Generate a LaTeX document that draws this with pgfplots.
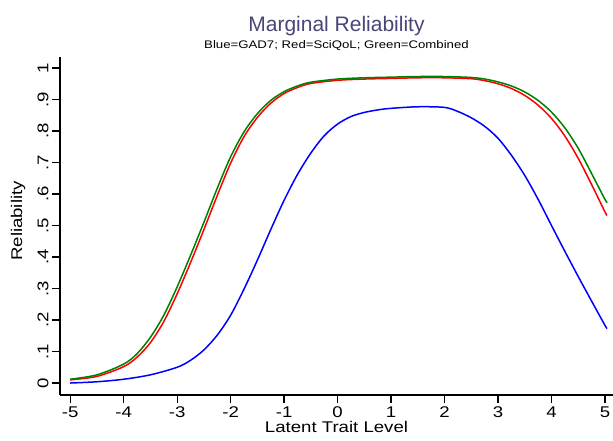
\documentclass[border=0pt]{standalone}
\usepackage{fontspec}
\setmainfont{Liberation Sans}[FakeStretch=1.2]
\newfontfamily\titlefont{Liberation Sans}
\usepackage{pgfplots}
\pgfplotsset{compat=1.18}
\definecolor{titleblue}{RGB}{70,70,120}
\definecolor{stgreen}{RGB}{0,128,0}

\begin{document}
\begin{tikzpicture}
\useasboundingbox (-60pt,-46pt) rectangle (553pt,395pt);
\begin{axis}[
    scale only axis,
    width=553pt, height=338pt,
    xmin=-5.19, xmax=5.15,
    ymin=-0.038, ymax=1.035,
    clip=false,
    axis lines*=left,
    axis line style={line width=1.2pt, black},
    tick align=outside,
    major tick length=8pt,
    tick style={line width=1.2pt, black},
    xtick={-5,-4,-3,-2,-1,0,1,2,3,4,5},
    xticklabels={-5,-4,-3,-2,-1,0,1,2,3,4,5},
    ytick={0,0.1,0.2,0.3,0.4,0.5,0.6,0.7,0.8,0.9,1},
    yticklabels={0,.1,.2,.3,.4,.5,.6,.7,.8,.9,1},
    ticklabel style={font=\fontsize{15.5}{18}\selectfont},
    yticklabel style={rotate=90, anchor=south},
    xlabel={Latent Trait Level},
    ylabel={Reliability},
    label style={font=\fontsize{15.5}{18}\selectfont},
    xlabel style={at={(axis description cs:0.5,-0.112)}, anchor=base},
    ylabel style={at={(axis description cs:-0.0687,0.515)}, anchor=base},
]
% GAD7
\addplot[blue, line width=1.5pt, smooth] coordinates {
    (-5,0.0) (-4.5,0.004) (-4,0.012) (-3.5,0.026) (-3,0.05) (-2.75,0.072)
    (-2.5,0.105) (-2.25,0.152) (-2,0.215) (-1.75,0.298) (-1.5,0.39)
    (-1.25,0.487) (-1,0.58) (-0.75,0.662) (-0.5,0.73) (-0.25,0.785)
    (0,0.822) (0.25,0.846) (0.5,0.859) (0.75,0.867) (1,0.872) (1.5,0.877)
    (2,0.875) (2.25,0.862) (2.5,0.842) (2.75,0.815) (3,0.777) (3.25,0.723)
    (3.5,0.659) (3.75,0.583) (4,0.5) (4.25,0.418) (4.5,0.338)
    (4.75,0.26) (5,0.183) (5.04,0.173)
};
% SciQoL
\addplot[red, line width=1.5pt, smooth] coordinates {
    (-5,0.01) (-4.5,0.021) (-4,0.052) (-3.75,0.082) (-3.5,0.128) (-3.25,0.195)
    (-3,0.283) (-2.75,0.382) (-2.5,0.487) (-2.25,0.595) (-2,0.698)
    (-1.75,0.782) (-1.5,0.843) (-1.25,0.888) (-1,0.919) (-0.75,0.938)
    (-0.5,0.951) (0,0.961) (0.5,0.965) (1,0.967) (1.5,0.969) (2,0.969)
    (2.5,0.966) (2.75,0.96) (3,0.95) (3.25,0.935) (3.5,0.913)
    (3.75,0.882) (4,0.84) (4.25,0.784) (4.5,0.713) (4.75,0.63) (5,0.543)
    (5.04,0.532)
};
% Combined
\addplot[stgreen, line width=1.5pt, smooth] coordinates {
    (-5,0.012) (-4.5,0.026) (-4,0.06) (-3.75,0.093) (-3.5,0.145) (-3.25,0.215)
    (-3,0.305) (-2.75,0.405) (-2.5,0.51) (-2.25,0.618) (-2,0.718)
    (-1.75,0.797) (-1.5,0.855) (-1.25,0.897) (-1,0.925) (-0.75,0.943)
    (-0.5,0.955) (0,0.965) (0.5,0.969) (1,0.971) (1.5,0.973) (2,0.973)
    (2.5,0.97) (2.75,0.965) (3,0.956) (3.25,0.943) (3.5,0.924)
    (3.75,0.897) (4,0.86) (4.25,0.81) (4.5,0.745) (4.75,0.665) (5,0.583)
    (5.04,0.575)
};
\node[anchor=base, text=titleblue, font=\titlefont\fontsize{21}{24}\selectfont]
    at (axis description cs:0.5,1.074) {Marginal Reliability};
\node[anchor=base, font=\fontsize{11}{13}\selectfont]
    at (axis description cs:0.5,1.0266) {Blue=GAD7; Red=SciQoL; Green=Combined};
\end{axis}
\end{tikzpicture}
\end{document}
